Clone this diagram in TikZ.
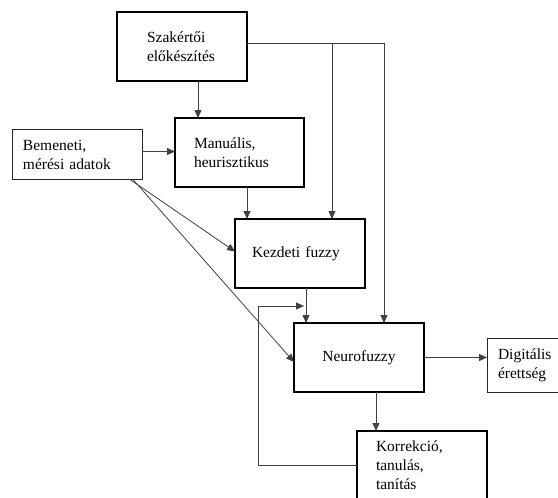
\documentclass[tikz,border=0pt]{standalone}
\usepackage{fontspec}
\setmainfont{Liberation Serif}
\usetikzlibrary{positioning, arrows.meta, calc}
\hyphenpenalty=10000

\begin{document}
\begin{tikzpicture}[x=1pt, y=-1pt, node distance=35pt,
    blk/.style={draw, rectangle, line width=1.3pt, minimum width=130pt, minimum height=69pt,
        inner xsep=0pt, inner ysep=2pt, outer sep=0pt, align=left, font=\fontsize{15.5}{19}\selectfont},
    io/.style={blk, line width=0.8pt, draw=black!85},
    line/.style={draw=black!75, line width=0.8pt},
    arr/.style={line, -{Triangle[length=8pt, width=7pt]}}]
    \clip (0,0) rectangle (558,498);

    % Blocks
    \node[blk, text width=70pt] (Szak) at (182,46.5) {Szakértői\\előkészítés};
    \node[blk, text width=91pt, minimum width=129pt, below=37pt of Szak, xshift=57.5pt] (Man) {Manuális,\\heurisztikus};
    \node[io, text width=108pt, minimum height=50pt, left=33pt of Man, yshift=-2pt] (Bem) {Bemeneti,\\mérési adatok};
    \node[blk, text width=96pt, below=32pt of Man, xshift=60.5pt] (Kezd) {Kezdeti fuzzy};
    \node[blk, text width=130pt, align=center, below=35pt of Kezd, xshift=59pt] (Neuro) {Neurofuzzy\\[3pt]};
    \node[io, text width=108pt, minimum height=54pt, right=63pt of Neuro, yshift=-7.5pt] (Dig) {Digitális\\érettség};
    \node[blk, text width=92pt, below=39pt of Neuro, xshift=63pt] (Korr) {Korrekció,\\tanulás,\\tanítás};

    % Entry and exit points
    \coordinate (szOut1) at ($(Szak.south)+(16,0)$);
    \coordinate (szOut2) at ($(Szak.east)+(0,-3)$);
    \coordinate (bmOut1) at ($(Bem.east)+(0,-3)$);
    \coordinate (bmOut2) at ($(Bem.south east)+(-12,0)$);
    \coordinate (bmOut3) at ($(Bem.south east)+(-9,0)$);
    \coordinate (kzIn1) at ($(Kezd.north west)+(12,0)$);
    \coordinate (kzIn2) at ($(Kezd.north west)+(97,0)$);
    \coordinate (kzIn3) at ($(Kezd.west)+(0,-2)$);
    \coordinate (nfIn1) at ($(Neuro.north west)+(12,0)$);
    \coordinate (nfIn2) at ($(Neuro.north west)+(90,0)$);
    \coordinate (nfIn3) at ($(Neuro.west)+(0,4.5)$);
    \coordinate (krIn) at ($(Korr.north west)+(19,0)$);
    \coordinate (fbEnd) at ($(Kezd.south -| nfIn1)+(-2,18)$);

    % Connections
    \draw[arr] (szOut1) -- (szOut1 |- Man.north);
    \draw[arr] (bmOut1) -- (bmOut1 -| Man.west);
    \draw[arr] (Man.south -| kzIn1) -- (kzIn1);
    \draw[arr] (szOut2) -| (nfIn2);
    \draw[arr] (szOut2 -| kzIn2) -- (kzIn2);
    \draw[arr] (bmOut2) -- (kzIn3);
    \draw[arr] (bmOut3) -- (nfIn3);
    \draw[arr] (Kezd.south -| nfIn1) -- (nfIn1);
    \draw[arr] (Neuro.east) -- (Neuro.east -| Dig.west);
    \draw[arr] (Neuro.south -| krIn) -- (krIn);
    \draw[arr] (Korr.west) -- ++(-99,0) |- (fbEnd);
\end{tikzpicture}
\end{document}
